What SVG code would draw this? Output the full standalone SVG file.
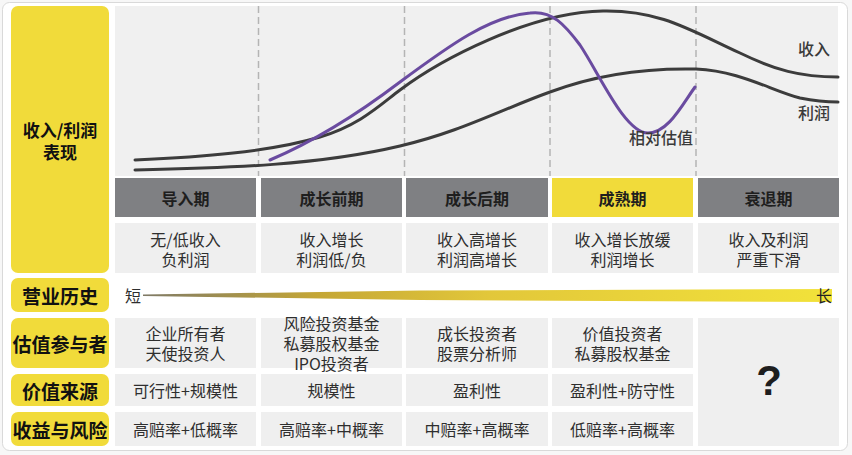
<svg xmlns="http://www.w3.org/2000/svg" width="852" height="455" viewBox="0 0 852 455">
<defs>
<style>
text{font-family:"Noto Sans CJK SC","Noto Sans",sans-serif;dominant-baseline:central;text-anchor:middle;}
.lab{fill:#f1db3a;}
.labt{font-size:19px;font-weight:bold;fill:#111;}
.hdr{fill:#7f8083;}
.hdry{fill:#f1db3a;}
.hdrt{font-size:16px;font-weight:bold;fill:#1e1e1e;}
.cell{fill:#efefef;}
.ct{font-size:16px;fill:#2e2e2e;}
.curve{fill:none;stroke:#3c3c3c;stroke-width:3;stroke-linecap:round;}
.val{fill:none;stroke:#6a4ba0;stroke-width:3;stroke-linecap:round;}
.dash{stroke:#b4b4b4;stroke-width:1.5;stroke-dasharray:7 4;}
.cl{font-size:16px;font-weight:500;fill:#3a3a3a;}
</style>
<linearGradient id="hist" x1="143" y1="0" x2="832" y2="0" gradientUnits="userSpaceOnUse">
<stop offset="0" stop-color="#7f7a66"/>
<stop offset="0.25" stop-color="#c4a636"/>
<stop offset="0.5" stop-color="#e2c73a"/>
<stop offset="1" stop-color="#f2e23a"/>
</linearGradient>
</defs>
<rect x="0" y="0" width="852" height="455" fill="#f7f7f7"/>
<rect id="card" x="2.5" y="2.5" width="845" height="448" rx="7" fill="#ffffff" stroke="#d9d9d9"/>

<g id="label-perf"><rect class="lab" x="11" y="6" width="98" height="267" rx="7"/><text class="labt" x="60" y="129" style="font-size:17px">收入/利润</text><text class="labt" x="60" y="151" style="font-size:17px">表现</text></g>
<g id="label-history"><rect class="lab" x="11" y="278" width="98" height="34" rx="7"/><text class="labt" x="60" y="295">营业历史</text></g>
<g id="label-participants"><rect class="lab" x="11" y="318" width="98" height="50" rx="7"/><text class="labt" x="60" y="343">估值参与者</text></g>
<g id="label-source"><rect class="lab" x="11" y="374" width="98" height="32" rx="7"/><text class="labt" x="60" y="390">价值来源</text></g>
<g id="label-risk"><rect class="lab" x="11" y="412" width="98" height="34" rx="7"/><text class="labt" x="60" y="429">收益与风险</text></g>

<g id="chart">
<rect x="115" y="6" width="723" height="170" fill="#f0f0f0"/>
<line class="dash" x1="258.5" y1="6" x2="258.5" y2="176"/>
<line class="dash" x1="404.5" y1="6" x2="404.5" y2="176"/>
<line class="dash" x1="550" y1="6" x2="550" y2="176"/>
<line class="dash" x1="696" y1="6" x2="696" y2="176"/>
</g>

<g id="connectors">
<path id="revenue" class="curve" d="M135,160 C200,157 270,152 320,137 C360,125 380,105 400,90 C440,60 530,12 603,11 C660,10 690,30 740,53 C775,70 800,77 838,77"/>
<path id="profit" class="curve" d="M135,170 C230,168 320,165 400,146 C460,132 500,110 550,92 C600,73 650,68 696,69 C740,71 770,90 800,98 C815,101 825,102 838,102"/>
<path id="valuation" class="val" d="M270,160 C310,143 350,120 400,82 C450,45 490,16 530,13 C552,10 565,25 580,45 C600,75 625,133 648,133 C668,133 682,105 695,87"/>
</g>

<g id="curve-labels">
<text class="cl" x="814" y="48">收入</text>
<text class="cl" x="814" y="112">利润</text>
<text class="cl" x="661" y="137">相对估值</text>
</g>

<g id="stage-intro"><rect class="hdr" x="115" y="178" width="141" height="39"/><text class="hdrt" x="185.5" y="197.5">导入期</text></g>
<g id="stage-early"><rect class="hdr" x="261" y="178" width="141" height="39"/><text class="hdrt" x="331.5" y="197.5">成长前期</text></g>
<g id="stage-late"><rect class="hdr" x="406" y="178" width="142" height="39"/><text class="hdrt" x="477" y="197.5">成长后期</text></g>
<g id="stage-mature"><rect class="hdry" x="552" y="178" width="141" height="39"/><text class="hdrt" x="622.5" y="197.5">成熟期</text></g>
<g id="stage-decline"><rect class="hdr" x="698" y="178" width="141" height="39"/><text class="hdrt" x="768.5" y="197.5">衰退期</text></g>

<g id="desc-intro"><rect class="cell" x="115" y="223" width="141" height="50"/><text class="ct" x="185.5" y="238.5">无/低收入</text><text class="ct" x="185.5" y="258.5">负利润</text></g>
<g id="desc-early"><rect class="cell" x="261" y="223" width="141" height="50"/><text class="ct" x="331.5" y="238.5">收入增长</text><text class="ct" x="331.5" y="258.5">利润低/负</text></g>
<g id="desc-late"><rect class="cell" x="406" y="223" width="142" height="50"/><text class="ct" x="477" y="238.5">收入高增长</text><text class="ct" x="477" y="258.5">利润高增长</text></g>
<g id="desc-mature"><rect class="cell" x="552" y="223" width="141" height="50"/><text class="ct" x="622.5" y="238.5">收入增长放缓</text><text class="ct" x="622.5" y="258.5">利润增长</text></g>
<g id="desc-decline"><rect class="cell" x="698" y="223" width="141" height="50"/><text class="ct" x="768.5" y="238.5">收入及利润</text><text class="ct" x="768.5" y="258.5">严重下滑</text></g>

<g id="history">
<path d="M143,294.5 L420,290.5 L832,289 L832,302 L420,300 L143,296 Z" fill="url(#hist)"/>
<text class="ct" x="133" y="295">短</text>
<text class="ct" x="824" y="295" style="fill:#222">长</text>
</g>

<g id="part-intro"><rect class="cell" x="115" y="318" width="141" height="50"/><text class="ct" x="185.5" y="333">企业所有者</text><text class="ct" x="185.5" y="353">天使投资人</text></g>
<g id="part-early"><rect class="cell" x="261" y="318" width="141" height="50"/><text class="ct" x="331.5" y="323">风险投资基金</text><text class="ct" x="331.5" y="343">私募股权基金</text><text class="ct" x="331.5" y="363">IPO投资者</text></g>
<g id="part-late"><rect class="cell" x="406" y="318" width="142" height="50"/><text class="ct" x="477" y="333">成长投资者</text><text class="ct" x="477" y="353">股票分析师</text></g>
<g id="part-mature"><rect class="cell" x="552" y="318" width="141" height="50"/><text class="ct" x="622.5" y="333">价值投资者</text><text class="ct" x="622.5" y="353">私募股权基金</text></g>
<g id="decline-unknown"><rect class="cell" x="698" y="318" width="141" height="128"/><text x="769" y="380" style="font-family:'Liberation Sans',Arial,sans-serif;font-size:42px;font-weight:bold;fill:#1e1e1e">?</text></g>

<g id="src-intro"><rect class="cell" x="115" y="374" width="141" height="32"/><text class="ct" x="185.5" y="390">可行性+规模性</text></g>
<g id="src-early"><rect class="cell" x="261" y="374" width="141" height="32"/><text class="ct" x="331.5" y="390">规模性</text></g>
<g id="src-late"><rect class="cell" x="406" y="374" width="142" height="32"/><text class="ct" x="477" y="390">盈利性</text></g>
<g id="src-mature"><rect class="cell" x="552" y="374" width="141" height="32"/><text class="ct" x="622.5" y="390">盈利性+防守性</text></g>

<g id="risk-intro"><rect class="cell" x="115" y="412" width="141" height="34"/><text class="ct" x="185.5" y="428.5">高赔率+低概率</text></g>
<g id="risk-early"><rect class="cell" x="261" y="412" width="141" height="34"/><text class="ct" x="331.5" y="428.5">高赔率+中概率</text></g>
<g id="risk-late"><rect class="cell" x="406" y="412" width="142" height="34"/><text class="ct" x="477" y="428.5">中赔率+高概率</text></g>
<g id="risk-mature"><rect class="cell" x="552" y="412" width="141" height="34"/><text class="ct" x="622.5" y="428.5">低赔率+高概率</text></g>
</svg>
